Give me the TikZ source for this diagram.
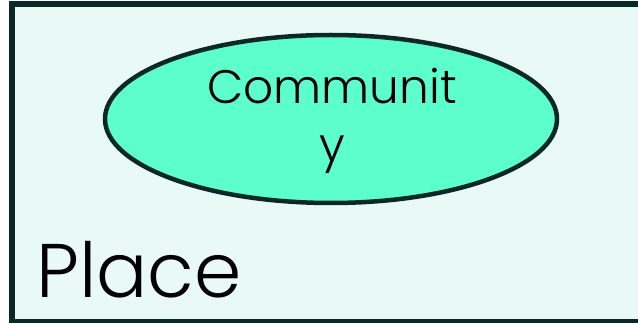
\documentclass[tikz,border=0pt]{standalone}
\usepackage{fontspec}
\setmainfont{Poppins}[UprightFont=* Light]
\usetikzlibrary{shapes.geometric}
\definecolor{placefill}{HTML}{E9FAF6}
\definecolor{edgecol}{HTML}{0B2828}
\definecolor{commfill}{HTML}{5CFFCB}
\begin{document}
\begin{tikzpicture}[x=1pt,y=-1pt,
  placebox/.style={draw=edgecol,fill=placefill,line width=6pt},
  commellipse/.style={ellipse,draw=edgecol,fill=commfill,line width=4.5pt,inner sep=0pt,minimum width=452pt,minimum height=168pt},
  commtext/.style={font=\fontsize{47}{58}\selectfont,text=black,inner sep=0pt,anchor=base},
  placetext/.style={font=\fontsize{76}{90}\selectfont,text=black,inner sep=0pt,anchor=base west}]
\useasboundingbox (0,0) rectangle (638,323);
\clip (0,0) rectangle (638,323);
\path[placebox] (12,4) rectangle (660,322);
\node[commellipse] (community) at (331,119) {};
\node[commtext] (commline1) at (332,104) {Communit};
\node[commtext] (commline2) at (332,162) {y};
\node[placetext] (place) at (36,298) {Place};
\end{tikzpicture}
\end{document}
